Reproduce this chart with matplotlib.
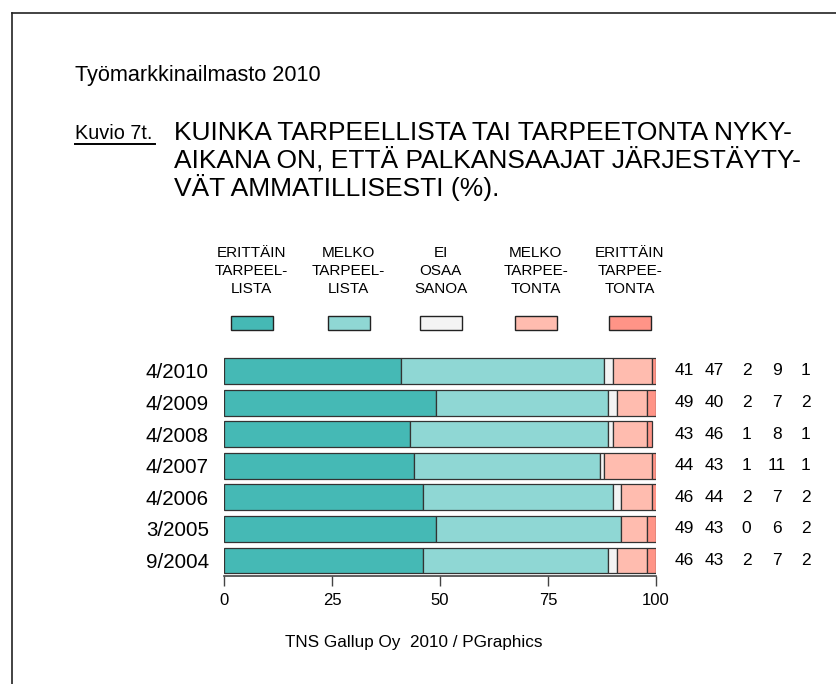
import matplotlib
matplotlib.use("Agg")
import matplotlib.pyplot as plt
from matplotlib.lines import Line2D
from matplotlib.patches import Rectangle

plt.rcParams['font.family'] = ['Liberation Sans', 'DejaVu Sans']

periods = ["4/2010", "4/2009", "4/2008", "4/2007", "4/2006", "3/2005", "9/2004"]
erittain_tarpeellista = [41, 49, 43, 44, 46, 49, 46]
melko_tarpeellista = [47, 40, 46, 43, 44, 43, 43]
ei_osaa_sanoa = [2, 2, 1, 1, 2, 0, 2]
melko_tarpeetonta = [9, 7, 8, 11, 7, 6, 7]
erittain_tarpeetonta = [1, 2, 1, 1, 2, 2, 2]

series = [erittain_tarpeellista, melko_tarpeellista, ei_osaa_sanoa,
          melko_tarpeetonta, erittain_tarpeetonta]
legend_labels = ["ERITTÄIN\nTARPEEL-\nLISTA", "MELKO\nTARPEEL-\nLISTA",
                 "EI\nOSAA\nSANOA", "MELKO\nTARPEE-\nTONTA", "ERITTÄIN\nTARPEE-\nTONTA"]
colors = ["#45B9B5", "#8FD7D4", "#F4F4F4", "#FFBCAF", "#FF9487"]
xticks = [0, 25, 50, 75, 100]

W, H = 836, 684
fig = plt.figure(figsize=(W / 100, H / 100), dpi=100)

def fx(x):
    return x / W

def fy(y):
    return 1 - y / H

# frame
fig.add_artist(Line2D([fx(11.5), fx(W + 5)], [fy(12.5), fy(12.5)], color="#222", lw=1.2))
fig.add_artist(Line2D([fx(11.5), fx(11.5)], [fy(12.5), fy(H + 5)], color="#222", lw=1.2))

# titles
fig.text(fx(75), fy(76), "Työmarkkinailmasto 2010", fontsize=15.6, ha="left", va="center")
fig.text(fx(75), fy(139), "Kuvio 7t.", fontsize=14.3, ha="left", va="baseline")
fig.add_artist(Line2D([fx(75), fx(155)], [fy(143.5), fy(143.5)], color="black", lw=1.4))
fig.text(fx(174), fy(161), "KUINKA TARPEELLISTA TAI TARPEETONTA NYKY-\nAIKANA ON, ETTÄ PALKANSAAJAT JÄRJESTÄYTY-\nVÄT AMMATILLISESTI (%).",
         fontsize=19, ha="left", va="center", linespacing=1.1)

# axes
top, bottom = 355.2, 576.3
ax = fig.add_axes([fx(224), fy(bottom), fx(656) - fx(224), (bottom - top) / H])
n = len(periods)
for i in range(n):
    left = 0
    for s, c in zip(series, colors):
        v = s[i]
        if v > 0:
            ax.barh(i, v, left=left, height=0.82, color=c, edgecolor="#333333", linewidth=0.9)
        left += v
ax.set_ylim(n - 0.5, -0.5)
ax.set_xlim(0, 100)
ax.set_yticks(range(n))
ax.set_yticklabels(periods, fontsize=14.8)
ax.tick_params(axis="y", length=0, pad=11)
ax.set_xticks(xticks)
ax.set_xticklabels([str(t) for t in xticks], fontsize=12)
ax.tick_params(axis="x", length=7, width=1, color="#444", pad=5, direction="out")
for sp in ["top", "left", "right"]:
    ax.spines[sp].set_visible(False)
ax.spines["bottom"].set_color("#444")
ax.spines["bottom"].set_linewidth(1.2)

# values on the right
col_x = [684, 714, 746.5, 777, 806]
for i in range(n):
    yy = top + (i + 0.5) * (bottom - top) / n
    for s, cx in zip(series, col_x):
        fig.text(fx(cx), fy(yy), str(s[i]), fontsize=12.5, ha="center", va="center")

# legend
leg_x = [251.5, 348.5, 440.5, 535.5, 630]
for lab, c, cx in zip(legend_labels, colors, leg_x):
    fig.text(fx(cx), fy(271), lab, fontsize=11, ha="center", va="center", linespacing=1.32)
    fig.add_artist(Rectangle((fx(cx - 21), fy(330)), fx(42), 14 / H, facecolor=c,
                             edgecolor="#222", lw=1.0, transform=fig.transFigure))

fig.text(fx(414), fy(642), "TNS Gallup Oy  2010 / PGraphics", fontsize=12.3, ha="center", va="center")

fig.savefig("out.png", dpi=100)
